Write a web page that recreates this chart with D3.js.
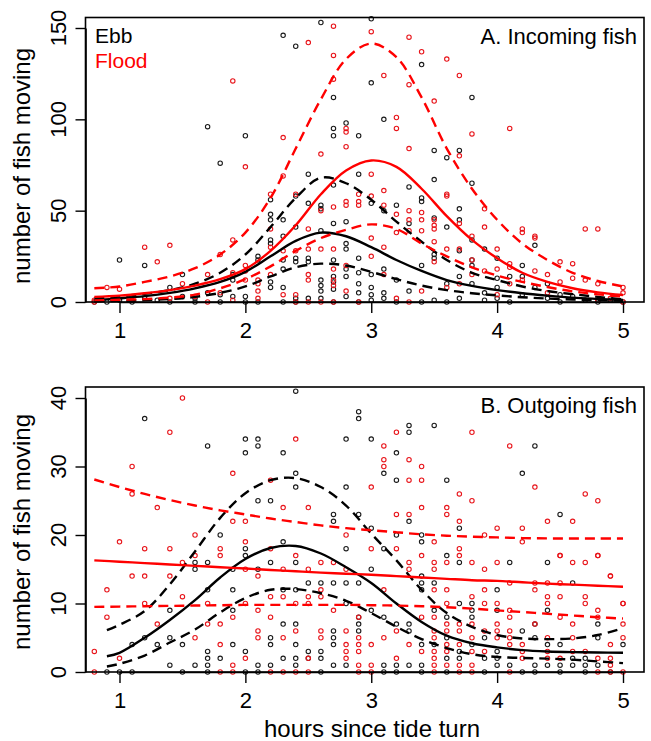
<!DOCTYPE html>
<html><head><meta charset="utf-8">
<script src="https://cdn.jsdelivr.net/npm/d3@7"></script>
<style>body{margin:0;background:#fff}</style>
</head><body><svg id="c" width="651" height="741"></svg>
<script>
// ---------- DATA ----------
const xTicks = [1, 2, 3, 4, 5];
const yTicksA = [0, 50, 100, 150];
const yTicksB = [0, 10, 20, 30, 40];
const seriesNames = ["Ebb", "Flood"];
const panelTitles = ["A. Incoming fish", "B. Outgoing fish"];
const xTitle = "hours since tide turn";
const yTitle = "number of fish moving";

// Panel A fitted curves
const hoursA = [0.8,1.0,1.2,1.4,1.6,1.8,2.0,2.2,2.4,2.6,2.8,3.0,3.2,3.4,3.6,3.8,4.0,4.2,4.4,4.6,4.8,5.0];
const ebbFitA  = [1.0,2.0,3.2,5.0,7.5,11.0,16.5,25,33.5,38,36,30,23,17,12,8.8,6.5,4.8,3.5,2.4,1.7,1.1];
const ebbHiA   = [2.0,3.0,4.5,6.5,10,16,26,41,57,68,65,56,44,33,23,16,12,8.5,6,4.3,2.8,1.5];
const ebbLoA   = [0.3,0.5,1.0,1.6,2.8,5.0,8.5,14,19,21,20,16.5,12.5,9,6.5,4.8,3.6,2.6,1.9,1.4,1.0,0.7];
const floodFitA= [2.8,3.5,4.8,6.5,9,12.5,18,28,42,59,72,77.5,74,62,47,34,24,16,11,7.5,5.3,3.8];
const floodHiA = [7.5,8.5,11,14,18.5,26,38,57,84,111,133,141.5,134,112,84,62,45,32,23,16,11.5,8.5];
const floodLoA = [0.8,1.2,1.6,2.4,4.0,7.5,12.5,19.5,28,35,39.5,42.5,40,32,25,19,14.5,11,8.2,5.8,4.2,3.0];

// Panel B fitted curves
const hoursBflood = [0.8,1.0,1.2,1.4,1.6,1.8,2.0,2.2,2.4,2.6,2.8,3.0,3.2,3.4,3.6,3.8,4.0,4.2,4.4,4.6,4.8,5.0];
const floodFitB = [16.3,16.1,15.9,15.7,15.5,15.3,15.1,14.9,14.7,14.5,14.35,14.2,14.0,13.8,13.6,13.4,13.3,13.1,12.9,12.75,12.6,12.45];
const floodHiB  = [28.1,27.0,26.0,25.1,24.3,23.6,23.0,22.4,21.9,21.4,21.0,20.7,20.4,20.1,19.9,19.75,19.65,19.55,19.5,19.5,19.5,19.5];
const floodLoB  = [9.5,9.55,9.6,9.65,9.7,9.75,9.8,9.8,9.8,9.8,9.8,9.75,9.7,9.6,9.45,9.25,9.0,8.75,8.5,8.25,8.0,7.8];
const hoursBebb = [0.9,1.0,1.2,1.4,1.6,1.8,2.0,2.2,2.4,2.6,2.8,3.0,3.2,3.4,3.6,3.8,4.0,4.2,4.4,4.6,4.8,5.0];
const ebbFitB = [2.3,2.8,5.0,7.6,10.5,13.8,16.5,18.1,18.4,17.3,15.3,13.0,10.0,7.3,5.3,4.2,3.6,3.2,3.0,2.9,2.85,2.8];
const ebbHiB  = [6.1,6.9,8.9,12.8,17.6,22.5,26.1,28.0,28.3,27.0,24.3,20.2,16.3,12.0,8.6,6.6,5.4,4.9,4.8,4.9,5.4,6.4];
const ebbLoB  = [0.8,1.2,2.4,4.3,6.2,8.7,10.8,12.0,12.1,11.5,10.4,8.6,6.6,4.8,3.5,2.6,2.2,2.05,1.95,1.8,1.55,1.3];

// Observations [hours, count]
const ebbPtsA = [[1.0,23],[1.2,20],[1.4,8],[1.5,15],[1.7,96],[1.8,76],[2.0,91],[2.3,146],[2.4,140],[2.5,70],[2.6,153],[2.7,112],[2.7,95],[2.7,91],[2.8,98],[2.9,91],[3.0,155],[3.0,120],[3.1,100],[3.4,130],[3.5,83],[3.6,79],[3.7,83],[3.8,112],[3.8,65],[3.7,51],[3.7,45],[3.5,67],[4.3,31],
[0.8,0],[0.9,0],[1.0,1],[1.1,0],[1.2,2],[1.3,1],[1.4,0],[1.5,3],[1.6,0],[1.6,2],[1.7,5],[1.8,0],[1.8,4],[1.9,15],[1.9,12],[1.9,3],[2.0,3],[2.0,0],[2.1,25],[2.1,23],[2.1,0],[2.2,56],[2.2,48],[2.2,45],[2.2,34],[2.2,32],[2.2,11],[2.2,8],[2.3,45],[2.3,36],[2.3,23],[2.3,18],[2.3,8],[2.3,0],[2.4,58],[2.4,41],[2.4,24],[2.4,22],[2.4,2],[2.4,0],[2.5,54],[2.5,24],[2.5,22],[2.5,2],[2.6,53],[2.6,51],[2.6,39],[2.6,12],[2.6,9],[2.6,6],[2.6,2],[2.7,64],[2.7,43],[2.7,23],[2.7,14],[2.7,11],[2.7,7],[2.7,0],[2.8,44],[2.8,32],[2.8,29],[2.8,18],[2.8,14],[2.8,3],[2.9,70],[2.9,24],[2.9,16],[2.9,10],[2.9,5],[2.9,0],[3.0,54],[3.0,15],[3.0,8],[3.0,4],[3.0,1],[3.1,50],[3.1,18],[3.1,5],[3.1,2],[3.2,53],[3.2,12],[3.2,0],[3.3,63],[3.3,43],[3.3,6],[3.4,57],[3.4,55],[3.4,20],[3.4,0],[3.5,46],[3.5,26],[3.5,24],[3.5,1],[3.6,41],[3.6,10],[3.6,0],[3.7,28],[3.7,14],[3.7,2],[3.8,34],[3.8,23],[3.8,20],[3.8,10],[3.9,29],[3.9,5],[3.9,1],[4.0,24],[4.0,13],[4.0,8],[4.0,2],[4.1,14],[4.1,0],[4.2,14],[4.2,20],[4.2,4],[4.3,8],[4.4,10],[4.4,2],[4.5,4],[4.5,0],[4.6,3],[4.7,1],[4.8,0],[4.9,1],[5.0,0]];
const floodPtsA = [[1.9,121],[2.5,142],[2.7,151],[2.7,135],[2.7,122],[3.0,148],[3.3,145],[3.4,137],[3.6,133],[3.1,124],[3.7,124],[3.3,119],[3.5,110],[3.8,92],[4.1,95],[3.2,101],[3.2,95],[2.8,95],[2.8,93],[2.8,85],[3.3,84],[3.7,80],[2.3,90],[2.6,81],[2.0,74],
[0.8,0],[0.8,1],[0.9,8],[1.0,7],[1.1,3],[1.1,1],[1.2,30],[1.3,22],[1.4,31],[1.4,2],[1.5,10],[1.6,3],[1.7,15],[1.7,0],[1.8,26],[1.8,5],[1.9,34],[1.9,16],[1.9,1],[2.0,20],[2.0,12],[2.0,17],[2.1,12],[2.1,10],[2.1,6],[2.1,2],[2.2,59],[2.2,40],[2.2,30],[2.2,15],[2.3,69],[2.3,28],[2.3,4],[2.4,59],[2.4,28],[2.4,4],[2.4,0],[2.5,40],[2.5,29],[2.5,15],[2.5,12],[2.5,0],[2.6,50],[2.6,29],[2.6,0],[2.7,52],[2.7,29],[2.7,18],[2.7,12],[2.7,9],[2.7,0],[2.8,55],[2.8,53],[2.8,20],[2.8,6],[2.9,59],[2.9,55],[2.9,53],[2.9,0],[3.0,70],[3.0,58],[3.0,35],[3.0,25],[3.1,61],[3.1,53],[3.1,30],[3.1,15],[3.2,48],[3.2,38],[3.2,2],[3.3,50],[3.3,45],[3.3,39],[3.3,0],[3.4,49],[3.4,45],[3.4,39],[3.4,6],[3.5,45],[3.5,42],[3.5,40],[3.5,33],[3.5,22],[3.6,59],[3.6,58],[3.6,29],[3.6,8],[3.7,43],[3.7,29],[3.7,10],[3.8,36],[3.8,23],[3.8,15],[3.9,51],[3.9,41],[3.9,17],[4.0,29],[4.0,18],[4.0,4],[4.1,21],[4.1,19],[4.1,10],[4.2,40],[4.2,38],[4.2,12],[4.3,36],[4.3,35],[4.3,17],[4.4,15],[4.4,5],[4.5,22],[4.5,11],[4.6,21],[4.6,13],[4.7,40],[4.7,12],[4.8,40],[4.8,10],[4.8,1],[4.9,2],[5.0,8],[5.0,5],[5.0,0]];
const ebbPtsB = [[1.2,37],[1.7,33],[2.0,34],[2.0,32],[2.1,34],[2.1,33],[2.3,32],[2.4,41],[2.4,29],[2.4,27],[2.1,25],[2.2,25],[2.7,23],[2.7,22],[2.8,34],[2.8,27],[2.8,18],[2.9,38],[2.9,37],[2.9,23],[3.0,34],[3.0,21],[3.1,29],[3.1,18],[3.2,32],[3.2,28],[3.2,20],[3.3,36],[3.3,35],[3.3,22],[3.5,36],[3.6,28],[3.7,21],[3.4,20],[3.4,19],[4.3,33],[4.2,29],[4.5,23],[4.1,16],[4.0,12],[4.4,16],[4.6,13],
[0.9,0],[1.0,0],[1.1,0],[1.1,4],[1.2,5],[1.3,4],[1.4,9],[1.4,5],[1.4,1],[1.5,4],[1.5,0],[1.6,16],[1.6,15],[1.6,1],[1.7,16],[1.7,12],[1.7,3],[1.7,2],[1.7,1],[1.7,0],[1.8,20],[1.8,2],[1.9,15],[1.9,12],[1.9,9],[1.9,4],[2.0,18],[2.0,17],[2.0,3],[2.0,0],[2.1,15],[2.1,1],[2.1,0],[2.2,16],[2.2,5],[2.2,4],[2.2,1],[2.3,19],[2.3,12],[2.3,7],[2.3,2],[2.4,16],[2.4,12],[2.4,7],[2.4,4],[2.4,2],[2.4,1],[2.5,13],[2.5,3],[2.5,2],[2.6,13],[2.6,3],[2.6,2],[2.6,0],[2.7,13],[2.7,6],[2.7,5],[2.7,4],[2.7,1],[2.8,13],[2.8,10],[2.8,1],[2.9,13],[2.9,8],[2.9,7],[2.9,6],[3.0,15],[3.0,9],[3.1,8],[3.1,1],[3.1,0],[3.2,7],[3.2,1],[3.2,0],[3.3,7],[3.3,6],[3.3,1],[3.4,14],[3.4,13],[3.4,12],[3.4,4],[3.4,1],[3.4,0],[3.5,13],[3.5,9],[3.5,4],[3.6,17],[3.6,8],[3.6,5],[3.6,2],[3.6,0],[3.7,16],[3.7,10],[3.7,3],[3.7,2],[3.8,10],[3.8,9],[3.8,8],[3.8,4],[3.9,5],[3.9,2],[3.9,0],[4.0,9],[4.0,3],[4.0,2],[4.0,1],[4.1,1],[4.2,6],[4.2,0],[4.3,7],[4.3,5],[4.3,1],[4.3,0],[4.4,9],[4.4,4],[4.4,1],[4.5,4],[4.5,1],[4.5,0],[4.6,2],[4.6,1],[4.7,2],[4.7,1],[4.7,0],[4.8,7],[4.8,5],[4.8,1],[4.9,0],[5.0,4]];
const floodPtsB = [[1.5,40],[1.4,35],[1.1,30],[1.1,26],[1.3,24],[1.0,19],[0.9,12],[0.9,8],[0.8,3],[1.1,14],[1.2,18],[1.2,14],[1.4,18],[1.4,14],[1.5,16],[1.5,11],[1.6,20],[1.6,17],[1.9,29],[1.9,22],[2.0,22],[2.0,19],[2.2,28],[2.3,24],[2.4,34],[2.5,24],[2.8,20],[3.0,27],[3.1,33],[3.1,31],[3.1,30],[3.2,35],[3.2,23],[3.3,31],[3.3,28],[3.3,23],[3.4,30],[3.4,28],[3.4,24],[3.6,24],[3.6,23],[3.7,26],[3.7,22],[3.8,35],[3.8,25],[3.9,20],[4.0,21],[4.1,33],[4.2,21],[4.2,19],[4.3,27],[4.4,22],[4.5,17],[4.6,22],[4.7,26],[4.8,25],[4.8,17],[4.9,14],[5.0,10],
[0.8,0],[1.0,2],[1.2,10],[1.3,7],[1.6,5],[1.7,10],[1.7,7],[1.8,18],[1.8,17],[1.8,7],[1.8,4],[1.8,0],[1.9,8],[1.9,1],[1.9,0],[2.0,15],[2.0,10],[2.0,2],[2.1,14],[2.1,9],[2.1,6],[2.1,5],[2.2,18],[2.2,11],[2.2,8],[2.2,0],[2.3,15],[2.3,11],[2.3,5],[2.3,0],[2.4,17],[2.4,10],[2.4,6],[2.4,0],[2.5,15],[2.5,11],[2.5,10],[2.5,2],[2.5,0],[2.6,16],[2.6,12],[2.6,11],[2.6,6],[2.6,5],[2.7,16],[2.7,9],[2.8,15],[2.8,6],[2.8,4],[2.8,3],[2.8,2],[2.9,8],[2.9,5],[2.9,4],[2.9,3],[2.9,1],[2.9,0],[3.0,18],[3.0,4],[3.0,1],[3.0,0],[3.1,12],[3.1,5],[3.2,18],[3.2,6],[3.2,2],[3.3,16],[3.3,15],[3.3,4],[3.4,17],[3.4,8],[3.4,3],[3.5,19],[3.5,16],[3.5,15],[3.5,12],[3.5,8],[3.5,6],[3.5,5],[3.5,3],[3.5,2],[3.5,1],[3.5,0],[3.6,16],[3.6,12],[3.6,10],[3.6,7],[3.6,6],[3.6,4],[3.6,3],[3.6,1],[3.7,18],[3.7,17],[3.7,7],[3.7,6],[3.7,4],[3.7,1],[3.7,0],[3.8,16],[3.8,11],[3.8,7],[3.8,5],[3.8,3],[3.8,1],[3.8,0],[3.9,15],[3.9,12],[3.9,10],[3.9,6],[3.9,3],[4.0,16],[4.0,10],[4.0,7],[4.0,6],[4.0,5],[4.1,13],[4.1,9],[4.1,8],[4.1,6],[4.1,5],[4.1,4],[4.1,0],[4.2,4],[4.2,3],[4.2,2],[4.3,13],[4.3,12],[4.3,7],[4.4,13],[4.4,11],[4.4,10],[4.4,5],[4.4,3],[4.4,2],[4.5,17],[4.5,13],[4.5,11],[4.5,8],[4.5,2],[4.6,16],[4.6,7],[4.6,5],[4.6,3],[4.7,16],[4.7,11],[4.7,10],[4.7,3],[4.8,17],[4.8,9],[4.8,8],[4.8,2],[4.8,0],[4.9,14],[4.9,4],[4.9,2],[4.9,1],[4.9,0],[5.0,10],[5.0,7],[5.0,5],[5.0,0]];

// ---------- DRAW ----------
const FONT = "'Liberation Sans', Arial, Helvetica, sans-serif";
const RED = "#ff0000", BLACK = "#000000";
const svg = d3.select("#c");
svg.append("rect").attr("width", 651).attr("height", 741).attr("fill", "#fff");

const x = d3.scaleLinear().domain([1, 5]).range([119.5, 623]);
const frameL = 85.5, frameR = 644;

function drawPanel(o) {
  const g = svg.append("g");
  const y = d3.scaleLinear().domain([0, o.yTop]).range([o.y0, o.yTopPx]);

  [[o.ebbPts, "#1a1a1a"], [o.floodPts, "#e8141a"]].forEach(([pts, col]) => {
    g.append("g").selectAll("circle").data(pts).join("circle")
      .attr("cx", d => x(d[0])).attr("cy", d => y(d[1])).attr("r", 2.2)
      .attr("fill", "none").attr("stroke", col).attr("stroke-width", 1.1);
  });

  const line = d3.line().x(d => x(d[0])).y(d => y(d[1])).curve(d3.curveCatmullRom.alpha(0.5));
  o.curves.forEach(c => {
    g.append("path").datum(c.xs.map((v, i) => [v, c.ys[i]]))
      .attr("d", line).attr("fill", "none").attr("stroke", c.col)
      .attr("stroke-width", 2.4).attr("stroke-dasharray", c.dash ? "10,6" : null);
  });

  g.append("rect").attr("x", frameL).attr("y", o.frameT).attr("width", frameR - frameL)
    .attr("height", o.y0 - o.frameT).attr("fill", "none").attr("stroke", "#000").attr("stroke-width", 1.6);

  const ax = g.append("g").attr("transform", `translate(0,${o.y0})`)
    .call(d3.axisBottom(x).tickValues(xTicks).tickFormat(d3.format("d")).tickSize(11).tickSizeOuter(0).tickPadding(9));
  ax.select(".domain").attr("stroke-width", 1.6);
  ax.selectAll(".tick line").attr("stroke-width", 1.4);
  ax.selectAll("text").attr("font-family", FONT).attr("font-size", 22).attr("fill", "#000");

  const ay = g.append("g").attr("transform", `translate(${frameL},0)`)
    .call(d3.axisLeft(y).tickValues(o.yTicks).tickSize(10).tickSizeOuter(0));
  ay.select(".domain").attr("stroke-width", 1.6);
  ay.selectAll(".tick line").attr("stroke-width", 1.4);
  ay.selectAll(".tick text").remove();
  g.append("g").selectAll("text").data(o.yTicks).join("text")
    .attr("transform", d => `translate(65.5,${y(d)}) rotate(-90)`)
    .attr("text-anchor", "middle").attr("font-family", FONT).attr("font-size", 22).text(d => d);

  g.append("text").attr("transform", `translate(30,${o.yTitleC}) rotate(-90)`)
    .attr("text-anchor", "middle").attr("font-family", FONT).attr("font-size", 24).text(yTitle);

  g.append("text").attr("x", 637).attr("y", o.titleY).attr("text-anchor", "end")
    .attr("font-family", FONT).attr("font-size", 22).text(o.title);
  return g;
}

drawPanel({
  yTop: 150, y0: 302, yTopPx: 28, frameT: 17.5, yTicks: yTicksA,
  ebbPts: ebbPtsA, floodPts: floodPtsA, title: panelTitles[0], titleY: 44, yTitleC: 166,
  curves: [
    {xs: hoursA, ys: ebbFitA, col: BLACK, dash: false},
    {xs: hoursA, ys: ebbHiA, col: BLACK, dash: true},
    {xs: hoursA, ys: ebbLoA, col: BLACK, dash: true},
    {xs: hoursA, ys: floodFitA, col: RED, dash: false},
    {xs: hoursA, ys: floodHiA, col: RED, dash: true},
    {xs: hoursA, ys: floodLoA, col: RED, dash: true}
  ]
});
drawPanel({
  yTop: 40, y0: 672, yTopPx: 398, frameT: 387, yTicks: yTicksB,
  ebbPts: ebbPtsB, floodPts: floodPtsB, title: panelTitles[1], titleY: 413, yTitleC: 532,
  curves: [
    {xs: hoursBebb, ys: ebbFitB, col: BLACK, dash: false},
    {xs: hoursBebb, ys: ebbHiB, col: BLACK, dash: true},
    {xs: hoursBebb, ys: ebbLoB, col: BLACK, dash: true},
    {xs: hoursBflood, ys: floodFitB, col: RED, dash: false},
    {xs: hoursBflood, ys: floodHiB, col: RED, dash: true},
    {xs: hoursBflood, ys: floodLoB, col: RED, dash: true}
  ]
});

svg.append("text").attr("x", 95).attr("y", 43).attr("font-family", FONT).attr("font-size", 21)
  .attr("fill", BLACK).text(seriesNames[0]);
svg.append("text").attr("x", 95).attr("y", 68).attr("font-family", FONT).attr("font-size", 21)
  .attr("fill", RED).text(seriesNames[1]);

svg.append("text").attr("x", 372).attr("y", 737).attr("text-anchor", "middle")
  .attr("font-family", FONT).attr("font-size", 24).text(xTitle);
</script></body></html>
